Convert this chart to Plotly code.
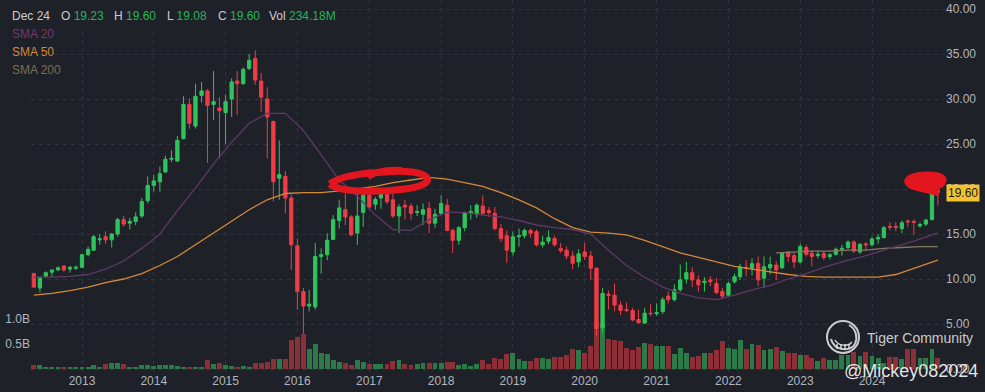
import pandas as pd
import plotly.graph_objects as go

# ---------------- data (monthly candles, May 2012 .. Dec 2024) ----------------
months = pd.date_range("2012-05-01", "2024-12-01", freq="MS")
dates = [d.strftime("%Y-%m-%d") for d in months]

opens = [10.6, 9.0, 10.3, 10.75, 11.0, 11.45, 11.1, 11.2, 11.3, 12.7,
         13.2, 14.35, 14.7, 14.35, 15.0, 16.6, 16.2, 16.4, 17.0, 18.7,
         20.4, 20.8, 21.9, 23.3, 23.1, 25.6, 29.4, 27.0, 30.4, 30.9,
         29.4, 29.0, 28.5, 30.0, 32.0, 31.7, 33.4, 34.5, 32.0, 30.0,
         27.5, 21.2, 21.4, 19.0, 13.7, 8.6, 7.0, 6.9, 12.5, 12.7,
         14.4, 16.5, 17.7, 16.9, 15.1, 17.4, 19.3, 18.3, 19.0, 19.5,
         18.8, 17.0, 18.2, 18.1, 17.4, 17.2, 17.85, 16.2, 17.3, 18.2,
         15.4, 14.3, 15.7, 17.3, 17.2, 18.1, 17.6, 17.3, 15.6, 14.8,
         13.0, 14.7, 14.8, 15.4, 15.25, 13.8, 14.2, 14.5, 13.4, 13.2,
         12.55, 11.9, 13.0, 12.55, 11.2, 4.6, 8.3, 8.2, 7.1, 6.6,
         6.5, 5.5, 5.1, 6.2, 6.15, 6.4, 8.1, 7.7, 8.8, 10.0,
         10.7, 9.9, 9.6, 9.9, 9.5, 8.6, 8.2, 9.7, 10.25, 11.3,
         11.2, 11.75, 10.1, 11.25, 11.55, 11.25, 13.0, 12.6, 11.9, 13.5,
         12.85, 12.6, 12.85, 12.5, 12.75, 13.3, 13.5, 14.1, 13.0, 13.9,
         13.8, 14.45, 14.6, 15.85, 15.85, 15.6, 16.45, 16.4, 15.9, 16.1,
         16.6, 19.9]

highs = [10.7, 10.2, 10.85, 11.05, 11.4, 11.5, 11.45, 11.5, 12.8, 13.6,
         14.9, 15.0, 15.3, 15.1, 16.8, 17.0, 16.8, 17.4, 19.0, 21.4,
         21.6, 22.5, 23.7, 24.3, 25.9, 30.3, 30.1, 31.7, 31.9, 31.1,
         33.1, 30.2, 30.5, 32.3, 33.1, 33.5, 35.0, 35.4, 32.9, 31.3,
         27.6, 25.4, 22.0, 19.4, 14.5, 9.0, 8.8, 14.0, 13.4, 15.1,
         17.1, 18.8, 19.5, 17.1, 19.5, 19.5, 19.6, 19.1, 19.7, 19.8,
         19.5, 18.3, 18.8, 18.4, 18.2, 18.4, 18.6, 17.8, 19.3, 18.9,
         15.6, 15.9, 17.5, 18.2, 18.4, 19.3, 18.0, 18.0, 16.1, 15.4,
         15.3, 15.6, 15.6, 15.6, 15.5, 14.8, 15.4, 14.8, 14.0, 13.6,
         13.1, 13.3, 14.0, 13.1, 11.3, 9.0, 8.7, 9.5, 7.5, 7.4,
         6.8, 6.6, 6.8, 7.2, 7.3, 8.0, 8.6, 9.4, 11.6, 11.9,
         11.3, 10.4, 10.2, 10.3, 10.1, 9.0, 9.7, 10.6, 11.7, 12.1,
         12.3, 12.5, 12.5, 12.5, 12.0, 13.0, 13.1, 12.9, 13.9, 13.8,
         13.2, 13.1, 13.1, 12.9, 13.5, 13.8, 14.3, 14.3, 14.0, 14.1,
         14.7, 15.0, 15.9, 16.3, 16.3, 16.5, 16.6, 16.6, 16.3, 16.7,
         20.5, 20.4]

lows = [9.0, 8.5, 10.1, 10.2, 10.9, 10.8, 10.7, 11.0, 11.2, 12.5,
        13.1, 13.8, 13.9, 13.5, 14.7, 15.8, 15.5, 16.0, 16.8, 18.4,
        19.7, 19.7, 21.8, 23.0, 23.0, 25.5, 26.7, 26.7, 29.6, 22.9,
        27.7, 23.4, 25.0, 28.0, 28.2, 31.6, 33.2, 31.6, 28.6, 23.4,
        18.6, 18.8, 17.3, 11.0, 6.6, 3.9, 6.4, 6.6, 10.6, 12.1,
        14.3, 15.6, 16.0, 14.8, 13.8, 15.8, 17.7, 17.7, 17.8, 18.3,
        16.8, 15.1, 16.6, 16.6, 17.0, 16.0, 15.1, 15.7, 17.1, 15.3,
        12.9, 13.8, 15.3, 16.6, 16.8, 17.1, 16.9, 15.4, 14.1, 11.8,
        12.6, 13.6, 14.5, 14.6, 13.6, 13.5, 13.9, 13.6, 12.9, 12.2,
        11.1, 11.3, 12.1, 9.9, 3.7, 4.0, 6.6, 6.4, 6.0, 6.3,
        5.3, 5.0, 5.0, 5.9, 5.9, 6.1, 7.3, 7.5, 8.6, 9.5,
        9.1, 8.6, 8.6, 9.2, 8.3, 7.8, 8.0, 9.5, 9.9, 10.3,
        10.4, 9.2, 9.0, 10.5, 9.9, 11.1, 11.9, 11.2, 11.7, 12.5,
        11.4, 12.3, 12.1, 12.2, 12.6, 12.6, 13.3, 12.9, 12.8, 13.2,
        13.6, 13.9, 14.5, 15.4, 15.3, 15.1, 15.8, 14.9, 15.7, 15.9,
        16.5, 18.2]

closes = [9.1, 10.2, 10.7, 11.0, 11.25, 11.0, 11.3, 11.3, 12.7, 13.3,
          14.7, 14.45, 14.35, 15.0, 16.6, 16.1, 16.4, 16.9, 18.6, 20.4,
          20.9, 21.7, 23.3, 23.4, 25.4, 29.4, 27.3, 30.3, 30.9, 29.3,
          29.7, 28.7, 29.7, 31.9, 31.7, 33.3, 34.3, 32.1, 30.2, 28.0,
          20.8, 21.6, 19.0, 13.8, 8.6, 7.0, 7.2, 12.5, 12.7, 14.3,
          16.6, 17.9, 16.9, 14.9, 17.0, 19.3, 18.0, 18.85, 19.5, 18.6,
          17.0, 18.0, 18.0, 17.3, 17.5, 17.7, 16.2, 17.2, 18.4, 15.4,
          14.3, 15.7, 17.3, 17.5, 18.2, 17.3, 17.4, 15.6, 14.5, 13.2,
          14.7, 14.8, 15.4, 15.1, 13.8, 14.1, 14.6, 13.8, 13.15, 12.55,
          11.75, 12.8, 12.5, 11.2, 4.5, 8.4, 8.2, 7.1, 6.5, 6.5,
          5.45, 5.15, 6.2, 6.15, 6.25, 7.7, 7.7, 8.8, 9.9, 10.7,
          9.9, 9.35, 9.75, 9.7, 8.5, 8.1, 9.5, 10.25, 11.35, 11.2,
          11.7, 9.9, 11.35, 11.6, 11.0, 12.85, 12.5, 11.9, 13.6, 12.75,
          12.5, 12.75, 12.4, 12.7, 13.3, 13.4, 14.1, 13.1, 13.85, 13.8,
          14.45, 14.6, 15.7, 15.75, 15.75, 16.25, 16.35, 16.3, 16.05, 16.55,
          19.9, 19.6]

volumes_b = [0.08, 0.08, 0.03, 0.05, 0.03, 0.05, 0.05, 0.05, 0.03, 0.03,
             0.08, 0.05, 0.10, 0.12, 0.12, 0.10, 0.05, 0.05, 0.09, 0.08,
             0.07, 0.09, 0.08, 0.08, 0.07, 0.05, 0.03, 0.03, 0.03, 0.18,
             0.10, 0.12, 0.08, 0.07, 0.05, 0.07, 0.03, 0.12, 0.13, 0.15,
             0.21, 0.21, 0.21, 0.59, 0.65, 0.70, 0.41, 0.50, 0.32, 0.30,
             0.19, 0.15, 0.12, 0.08, 0.19, 0.15, 0.10, 0.10, 0.10, 0.10,
             0.17, 0.19, 0.10, 0.08, 0.10, 0.13, 0.12, 0.12, 0.12, 0.15,
             0.15, 0.09, 0.10, 0.07, 0.10, 0.18, 0.10, 0.23, 0.21, 0.30,
             0.32, 0.21, 0.17, 0.17, 0.23, 0.23, 0.20, 0.25, 0.25, 0.28,
             0.41, 0.39, 0.33, 0.47, 0.95, 0.90, 0.60, 0.59, 0.57, 0.43,
             0.39, 0.45, 0.53, 0.50, 0.47, 0.47, 0.47, 0.30, 0.43, 0.32,
             0.25, 0.27, 0.32, 0.32, 0.39, 0.57, 0.43, 0.41, 0.59, 0.40,
             0.50, 0.48, 0.39, 0.40, 0.45, 0.37, 0.32, 0.32, 0.28, 0.28,
             0.23, 0.17, 0.23, 0.19, 0.19, 0.28, 0.28, 0.35, 0.27, 0.35,
             0.27, 0.23, 0.13, 0.25, 0.25, 0.20, 0.40, 0.40, 0.23, 0.23,
             0.41, 0.23]

# moving-average lines at quarterly points
sma20_dates = ["2012-05-01", "2012-08-01", "2012-11-01", "2013-02-01", "2013-05-01", "2013-08-01",
               "2013-11-01", "2014-02-01", "2014-05-01", "2014-08-01", "2014-11-01", "2015-02-01",
               "2015-05-01", "2015-08-01", "2015-11-01", "2016-02-01", "2016-05-01", "2016-08-01",
               "2016-11-01", "2017-02-01", "2017-05-01", "2017-08-01", "2017-11-01", "2018-02-01",
               "2018-05-01", "2018-08-01", "2018-11-01", "2019-02-01", "2019-05-01", "2019-08-01",
               "2019-11-01", "2020-02-01", "2020-05-01", "2020-08-01", "2020-11-01", "2021-02-01",
               "2021-05-01", "2021-08-01", "2021-11-01", "2022-02-01", "2022-05-01", "2022-08-01",
               "2022-11-01", "2023-02-01", "2023-05-01", "2023-08-01", "2023-11-01", "2024-02-01",
               "2024-05-01", "2024-08-01", "2024-11-01", "2024-12-01"]
sma20_vals = [10.2, 10.2, 10.3, 10.5, 11.1, 12.0, 13.4, 15.0, 17.6, 20.1, 22.8, 25.2,
              27.3, 28.4, 28.4, 26.5, 23.8, 21.0, 19.2, 17.1, 15.5, 15.4, 16.6, 17.4,
              17.4, 17.1, 16.9, 16.5, 16.0, 15.7, 15.5, 15.0, 13.2, 11.5, 10.2, 9.1,
              8.4, 7.9, 7.7, 8.2, 8.8, 9.3, 10.0, 10.6, 11.3, 11.9, 12.4, 13.0,
              13.6, 14.2, 14.9, 15.1]
sma50_dates = sma20_dates
sma50_vals = [8.2, 8.4, 8.7, 9.1, 9.6, 10.0, 10.6, 11.5, 12.5, 13.8, 15.1, 16.4,
              17.7, 18.8, 19.5, 19.6, 19.6, 19.8, 20.0, 20.3, 20.7, 21.0, 21.3, 21.1,
              20.7, 20.3, 19.6, 18.8, 17.9, 16.7, 15.7, 15.2, 15.1, 14.9, 14.3, 13.6,
              12.9, 12.4, 11.9, 11.4, 11.1, 10.8, 10.5, 10.3, 10.2, 10.2, 10.2, 10.2,
              10.5, 11.2, 11.9, 12.1]
sma200_dates = ["2022-09-01", "2022-12-01", "2023-03-01", "2023-06-01", "2023-09-01",
                "2023-12-01", "2024-03-01", "2024-06-01", "2024-09-01", "2024-12-01"]
sma200_vals = [12.9, 13.0, 13.1, 13.1, 13.2, 13.2, 13.4, 13.5, 13.6, 13.6]

year_ticks = [f"{y}-01-01" for y in range(2013, 2025)]
year_labels = [str(y) for y in range(2013, 2025)]
price_ticks = [0, 5, 10, 15, 20, 25, 30, 35, 40]
vol_ticks = [0.5, 1.0]
vol_labels = ["0.5B", "1.0B"]

# ---------------- styling / geometry ----------------
BG = "#1f2129"
GRID = "#30343f"
TXT = "#b2b5be"
UP = "#2fc45c"
DOWN = "#f03c46"
UP_VOL = "#2c7a47"
DOWN_VOL = "#8c2f37"
FONT = "Liberation Sans, Arial, sans-serif"

FW, FH = 985, 392
ML, MR, MT, MB = 31, 40, 0, 20
PW, PH = FW - ML - MR, FH - MT - MB


def px(x):
    return (x - ML) / PW


def py(y):
    return 1 - (y - MT) / PH


def path(segs):
    out = []
    for cmd, pts in segs:
        out.append(cmd + " " + " ".join(f"{px(a):.5f},{py(b):.5f}" for a, b in pts))
    return " ".join(out)


t13, t24 = pd.Timestamp("2013-01-01"), pd.Timestamp("2024-01-01")
ppd = (872 - 82) / (t24 - t13).days
x_start = t13 - pd.Timedelta(days=(82 - ML) / ppd)
x_end = t24 + pd.Timedelta(days=(ML + PW - 872) / ppd)

vol_colors = [UP_VOL if c >= o else DOWN_VOL for o, c in zip(opens, closes)]

fig = go.Figure()
fig.add_trace(go.Bar(x=dates, y=volumes_b, marker=dict(color=vol_colors, line=dict(width=0)),
                     width=25 * 86400000, yaxis="y", showlegend=False, hoverinfo="skip"))
fig.add_trace(go.Scatter(x=sma200_dates, y=sma200_vals, mode="lines", yaxis="y2",
                         line=dict(color="#857863", width=1.3), showlegend=False))
fig.add_trace(go.Scatter(x=sma50_dates, y=sma50_vals, mode="lines", yaxis="y2",
                         line=dict(color="#d4883a", width=1.3), showlegend=False))
fig.add_trace(go.Scatter(x=sma20_dates, y=sma20_vals, mode="lines", yaxis="y2",
                         line=dict(color="#5f3866", width=1.3), showlegend=False))
fig.add_trace(go.Candlestick(x=dates, open=opens, high=highs, low=lows, close=closes,
                             yaxis="y2", whiskerwidth=0,
                             increasing=dict(line=dict(color=UP, width=1), fillcolor=UP),
                             decreasing=dict(line=dict(color=DOWN, width=1), fillcolor=DOWN),
                             showlegend=False))

shapes = [
    # masks behind header and legend texts
    dict(type="rect", xref="paper", yref="paper", x0=px(0), x1=px(335), y0=py(26), y1=py(0),
         fillcolor=BG, line=dict(width=0), layer="above"),
    dict(type="rect", xref="paper", yref="paper", x0=px(0), x1=px(54), y0=py(79), y1=py(26),
         fillcolor=BG, line=dict(width=0), layer="above"),
    # hand-drawn red ellipse
    dict(type="path", xref="paper", yref="paper", layer="above",
         path=path([("M", [(330, 184)]),
                    ("C", [(338, 192), (375, 193), (405, 189)]),
                    ("C", [(420, 187), (430, 183), (427, 178)]),
                    ("C", [(424, 172), (405, 170), (385, 172)]),
                    ("C", [(365, 173), (340, 176), (330, 184)])]),
         line=dict(color="#e3161f", width=7)),
    dict(type="path", xref="paper", yref="paper", layer="above",
         path=path([("M", [(368, 177)]), ("C", [(376, 171), (388, 169), (402, 170)])]),
         line=dict(color="#e3161f", width=6)),
    # red blob at the last candles
    dict(type="path", xref="paper", yref="paper", layer="above",
         path=path([("M", [(905, 183)]),
                    ("C", [(903, 175), (915, 172), (928, 172)]),
                    ("C", [(940, 172), (947, 175), (946, 181)]),
                    ("C", [(945, 186), (942, 188), (939, 188)]),
                    ("L", [(938, 196), (935, 189)]),
                    ("C", [(925, 191), (907, 191), (905, 183)])]) + " Z",
         fillcolor="#e3161f", line=dict(color="#e3161f", width=1)),
    # watermark logo
    dict(type="circle", xref="paper", yref="paper", layer="above",
         x0=px(827), x1=px(859), y0=py(353), y1=py(321),
         line=dict(color="rgba(235,235,235,0.85)", width=2)),
    dict(type="path", xref="paper", yref="paper", layer="above",
         path=path([("M", [(849, 325)]), ("C", [(856, 329), (858, 337), (855, 344)])]),
         line=dict(color="rgba(235,235,235,0.85)", width=2)),
    dict(type="path", xref="paper", yref="paper", layer="above",
         path=path([("M", [(831, 339)]), ("C", [(834, 351), (850, 352), (855, 344)])]),
         line=dict(color="rgba(235,235,235,0.85)", width=2)),
    dict(type="path", xref="paper", yref="paper", layer="above",
         path=path([("M", [(835, 340)]), ("C", [(838, 346), (848, 347), (852, 342)])]),
         line=dict(color="rgba(235,235,235,0.85)", width=1.5)),
]
for sx in (837, 841, 845, 849):
    shapes.append(dict(type="line", xref="paper", yref="paper", layer="above",
                       x0=px(sx), x1=px(sx), y0=py(349), y1=py(344),
                       line=dict(color="rgba(235,235,235,0.85)", width=1.5)))

GREEN_TXT = "#27b35b"
annotations = [
    dict(text="Dec 24", x=px(10), y=py(16)),
    dict(text=f"O <span style='color:{GREEN_TXT}'>19.23</span>", x=px(59), y=py(16)),
    dict(text=f"H <span style='color:{GREEN_TXT}'>19.60</span>", x=px(112), y=py(16)),
    dict(text=f"L <span style='color:{GREEN_TXT}'>19.08</span>", x=px(165), y=py(16)),
    dict(text=f"C <span style='color:{GREEN_TXT}'>19.60</span>", x=px(216), y=py(16)),
    dict(text=f"Vol <span style='color:{GREEN_TXT}'>234.18M</span>", x=px(267), y=py(16)),
    dict(text="<span style='color:#73376f'>SMA 20</span>", x=px(10), y=py(34)),
    dict(text="<span style='color:#d4883a'>SMA 50</span>", x=px(10), y=py(52)),
    dict(text="<span style='color:#7a704f'>SMA 200</span>", x=px(10), y=py(70)),
]
for a in annotations:
    a.update(xref="paper", yref="paper", xanchor="left", yanchor="middle", showarrow=False,
             font=dict(family=FONT, size=12, color="#c9ccd4"))
annotations += [
    dict(text="19.60", xref="paper", yref="y2", x=px(946), y=19.6, xanchor="left", yanchor="middle",
         showarrow=False, bgcolor="#f2c231", borderpad=1,
         font=dict(family=FONT, size=12, color="#1c1c1c")),
    dict(text="Tiger Community", xref="paper", yref="paper", x=px(865), y=py(338),
         xanchor="left", yanchor="middle", showarrow=False,
         font=dict(family=FONT, size=14, color="rgba(235,235,235,0.85)")),
    dict(text="@Mickey082024", xref="paper", yref="paper", x=px(842), y=py(371),
         xanchor="left", yanchor="middle", showarrow=False,
         font=dict(family=FONT, size=18, color="rgba(255,255,255,0.88)")),
]

fig.update_layout(
    width=FW, height=FH, margin=dict(l=ML, r=MR, t=MT, b=MB),
    paper_bgcolor=BG, plot_bgcolor=BG, showlegend=False, bargap=0, boxgap=0.15,
    font=dict(family=FONT, size=12, color=TXT),
    xaxis=dict(type="date", range=[x_start, x_end], tickvals=year_ticks, ticktext=year_labels,
               showgrid=True, gridcolor=GRID, griddash="4px,4px", gridwidth=1,
               zeroline=False, showline=False, ticks="", rangeslider=dict(visible=False),
               tickfont=dict(size=12, color=TXT), automargin=False),
    yaxis=dict(range=[-3 / 50, 369 / 50], tickvals=vol_ticks, ticktext=vol_labels, side="left",
               showgrid=False, zeroline=False, showline=False, ticks="",
               tickfont=dict(size=12, color=TXT), automargin=False),
    yaxis2=dict(range=[-3 / 9, 369 / 9], overlaying="y", side="right", tickvals=price_ticks,
                tickformat=".2f", showgrid=True, gridcolor=GRID, griddash="4px,4px",
                zeroline=False, showline=False, ticks="", tickfont=dict(size=12, color=TXT),
                automargin=False),
    shapes=shapes, annotations=annotations,
)

fig.write_html(
    "out.html",
    config={"displayModeBar": False},
    post_script="document.body.style.margin='0';document.body.style.overflow='hidden';"
                "document.documentElement.style.background='" + BG + "';",
)
